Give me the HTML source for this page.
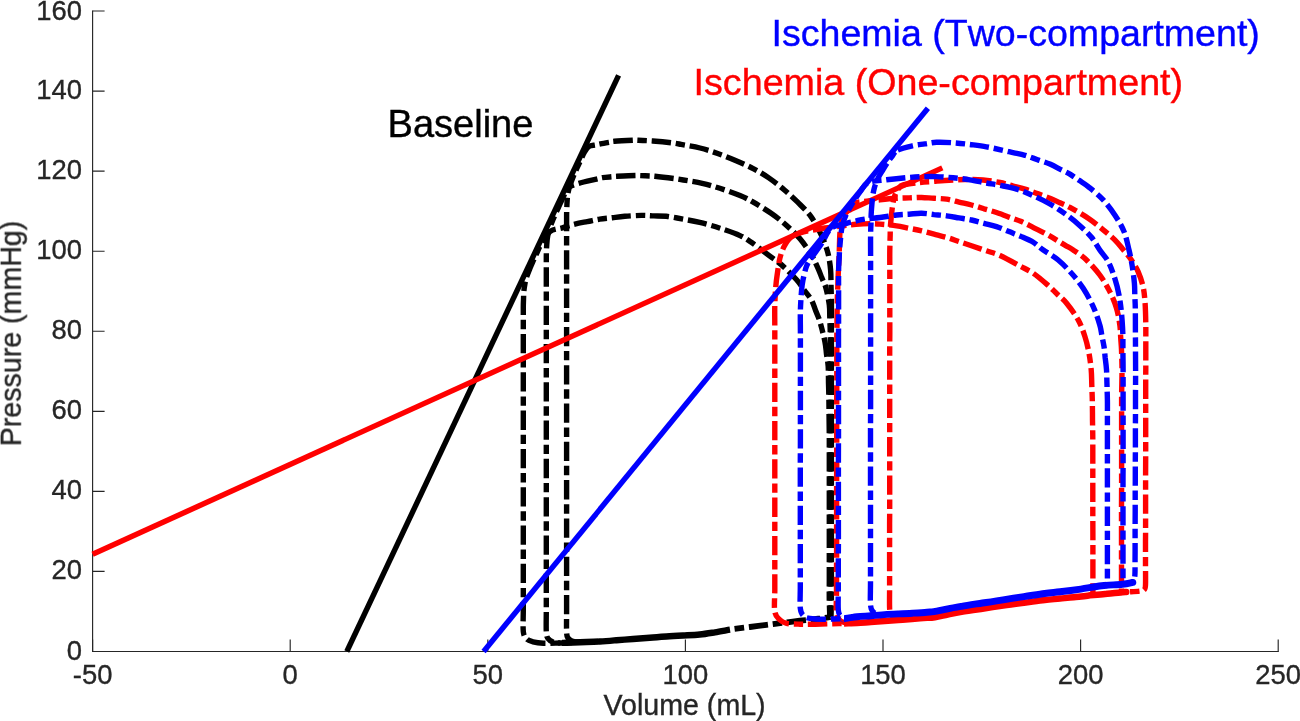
<!DOCTYPE html>
<html lang="en">
<head>
<meta charset="utf-8">
<title>Pressure-volume loops: Baseline vs Ischemia</title>
<style>
html,body{margin:0;padding:0;background:#fff;}
body{width:1300px;height:721px;overflow:hidden;}
svg{display:block;}
</style>
</head>
<body>
<svg width="1300" height="721" viewBox="0 0 1300 721">
<rect width="1300" height="721" fill="#fff"/>
<g stroke="#262626" stroke-width="1.15" fill="none" shape-rendering="auto">
<path d="M92.6 10.4V651.5H1278.8"/>
<path d="M92.6 651.5v-12.0M290.2 651.5v-12.0M487.8 651.5v-12.0M685.4 651.5v-12.0M883.0 651.5v-12.0M1080.6 651.5v-12.0M1278.2 651.5v-12.0M92.6 651.5h12.0M92.6 571.4h12.0M92.6 491.3h12.0M92.6 411.3h12.0M92.6 331.2h12.0M92.6 251.2h12.0M92.6 171.1h12.0M92.6 91.1h12.0M92.6 11.0h12.0"/>
</g>
<g font-family="'Liberation Sans', Arial, Helvetica, sans-serif" fill="#262626" stroke="#262626" stroke-width="0.35" style="opacity:0.999">
<g font-size="27.4" text-anchor="middle">
<text x="92.6" y="684.0">-50</text>
<text x="290.2" y="684.0">0</text>
<text x="487.8" y="684.0">50</text>
<text x="685.4" y="684.0">100</text>
<text x="883.0" y="684.0">150</text>
<text x="1080.6" y="684.0">200</text>
<text x="1278.2" y="684.0">250</text>
</g>
<g font-size="27.4" text-anchor="end">
<text x="81.9" y="659.5">0</text>
<text x="81.9" y="579.4">20</text>
<text x="81.9" y="499.3">40</text>
<text x="81.9" y="419.3">60</text>
<text x="81.9" y="339.2">80</text>
<text x="81.9" y="259.2">100</text>
<text x="81.9" y="179.1">120</text>
<text x="81.9" y="99.1">140</text>
<text x="81.9" y="19.8">160</text>
</g>
<text font-size="28.6" text-anchor="middle" x="684.6" y="714.5">Volume (mL)</text>
<text font-size="28.6" text-anchor="middle" transform="translate(20.8 333.5) rotate(-90)">Pressure (mmHg)</text>
</g>
<g fill="none" stroke="#000" stroke-width="5.4" stroke-linejoin="round">
<path stroke-dasharray="19.3 4.8 9.4 4.8" stroke-dashoffset="7.7" d="M831.0 617.0C831.1 614.2 831.3 606.2 831.4 600.0C831.4 593.8 831.4 586.7 831.4 580.0C831.4 573.3 831.4 566.7 831.4 560.0C831.4 553.3 831.4 546.7 831.4 540.0C831.4 533.3 831.4 526.7 831.4 520.0C831.4 513.3 831.4 506.7 831.4 500.0C831.4 493.3 831.4 486.7 831.4 480.0C831.4 473.3 831.4 466.7 831.4 460.0C831.4 453.3 831.4 446.7 831.4 440.0C831.4 433.3 831.4 426.7 831.4 420.0C831.4 413.3 831.4 406.7 831.4 400.0C831.4 393.3 831.4 386.7 831.4 380.0C831.4 373.3 831.4 366.7 831.4 360.0C831.4 353.3 831.4 346.7 831.4 340.0C831.4 333.3 831.4 326.7 831.4 320.0C831.4 313.3 831.5 305.8 831.4 300.0C831.3 294.2 831.1 290.0 831.0 285.0C830.9 280.0 831.1 275.5 830.6 270.0C830.1 264.5 829.3 258.1 827.7 252.2C826.1 246.3 823.8 240.3 821.0 234.4C818.2 228.5 814.9 222.0 811.0 216.6C807.1 211.2 802.1 206.6 797.7 202.2C793.3 197.8 789.2 194.1 784.4 190.0C779.6 185.9 774.0 181.5 768.8 177.9C763.6 174.3 758.8 171.5 753.2 168.6C747.7 165.7 741.4 163.0 735.5 160.5C729.6 158.0 723.6 155.6 717.7 153.5C711.8 151.4 706.1 149.5 700.0 148.0C693.9 146.5 685.9 145.3 681.1 144.4C676.4 143.5 676.2 143.4 671.5 142.8C666.8 142.2 658.2 141.4 652.7 141.0C647.2 140.6 641.5 140.4 638.2 140.3C635.0 140.2 637.2 140.0 633.2 140.2C629.2 140.4 618.3 141.0 614.4 141.3C610.5 141.6 612.2 141.8 609.9 142.2C607.6 142.6 602.9 143.4 600.5 143.9C598.1 144.4 597.5 144.6 595.5 145.0C593.5 145.4 590.6 145.3 588.8 146.5C587.0 147.7 585.9 149.8 584.5 152.0C583.1 154.2 582.0 157.3 580.7 160.0C579.5 162.7 578.2 165.3 577.0 168.0C575.8 170.7 574.6 173.3 573.5 176.0C572.4 178.7 571.3 181.3 570.4 184.0C569.5 186.7 568.7 189.3 568.2 192.0C567.7 194.7 567.4 197.3 567.2 200.0C567.0 202.7 566.9 205.3 566.8 208.0C566.7 210.7 566.6 212.7 566.6 216.0C566.6 219.3 566.6 224.0 566.6 228.0C566.6 232.0 566.6 234.4 566.6 240.0C566.6 245.6 566.6 254.5 566.6 261.8C566.6 269.0 566.6 276.3 566.6 283.6C566.6 290.8 566.6 298.1 566.6 305.3C566.6 312.6 566.6 319.9 566.6 327.1C566.6 334.4 566.6 341.6 566.6 348.9C566.6 356.1 566.6 363.4 566.6 370.7C566.6 377.9 566.6 385.2 566.6 392.4C566.6 399.7 566.6 407.0 566.6 414.2C566.6 421.5 566.6 428.7 566.6 436.0C566.6 443.3 566.6 450.5 566.6 457.8C566.6 465.0 566.6 472.3 566.6 479.6C566.6 486.8 566.6 494.1 566.6 501.3C566.6 508.6 566.6 515.9 566.6 523.1C566.6 530.4 566.6 537.6 566.6 544.9C566.6 552.1 566.6 559.4 566.6 566.7C566.6 573.9 566.6 581.2 566.6 588.4C566.6 595.7 566.6 603.0 566.6 610.2C566.6 617.5 566.4 627.4 566.6 632.0C566.8 636.6 567.1 636.5 568.0 638.0C568.9 639.5 570.0 640.3 572.0 641.0C574.0 641.7 577.0 642.1 580.0 642.2C583.0 642.4 588.3 642.0 590.0 641.9"/>
<path stroke-dasharray="19.3 4.8 9.4 4.8" stroke-dashoffset="7.7" d="M830.4 617.0C830.4 614.2 830.3 606.2 830.3 600.0C830.3 593.8 830.3 586.7 830.3 580.0C830.3 573.3 830.3 566.7 830.3 560.0C830.3 553.3 830.3 546.7 830.3 540.0C830.3 533.3 830.3 526.7 830.3 520.0C830.3 513.3 830.3 506.7 830.3 500.0C830.3 493.3 830.3 486.7 830.3 480.0C830.3 473.3 830.3 466.7 830.3 460.0C830.3 453.3 830.3 446.7 830.3 440.0C830.3 433.3 830.3 426.7 830.3 420.0C830.3 413.3 830.3 406.2 830.3 400.0C830.3 393.8 830.3 388.3 830.3 382.5C830.3 376.7 830.3 370.8 830.2 365.0C830.2 359.2 830.2 353.3 830.2 347.5C830.2 341.7 830.3 335.0 830.2 330.0C830.1 325.0 829.9 321.7 829.8 317.5C829.6 313.3 829.9 309.9 829.3 305.0C828.7 300.1 827.2 292.7 826.0 288.2C824.8 283.7 823.2 281.4 821.9 277.9C820.5 274.5 819.5 271.6 817.7 267.7C815.9 263.8 814.0 259.2 811.0 254.4C808.0 249.6 804.1 243.6 800.0 238.8C795.9 234.0 791.4 229.8 786.6 225.5C781.8 221.2 776.7 217.2 771.1 213.3C765.5 209.4 758.5 205.2 753.3 202.2C748.1 199.2 745.6 197.8 740.0 195.5C734.4 193.2 726.2 190.3 719.9 188.3C713.6 186.3 708.3 184.7 702.2 183.3C696.1 181.9 688.0 180.8 683.3 180.0C678.5 179.2 678.4 179.1 673.7 178.5C669.0 177.9 658.9 176.7 654.9 176.3C650.9 175.9 652.3 176.1 649.9 176.0C647.5 175.9 642.8 175.7 640.4 175.6C638.0 175.5 639.3 175.4 635.4 175.5C631.5 175.6 621.1 176.1 617.1 176.3C613.1 176.5 614.0 176.6 611.6 176.8C609.2 177.0 605.0 177.3 602.7 177.6C600.4 177.9 601.7 177.9 597.7 178.8C593.7 179.8 583.8 181.8 578.8 183.3C573.8 184.8 570.0 185.9 567.5 188.0C565.0 190.1 565.0 193.3 563.7 196.0C562.5 198.7 561.2 201.3 560.0 204.0C558.8 206.7 557.5 209.3 556.3 212.0C555.1 214.7 553.9 217.3 552.8 220.0C551.7 222.7 550.6 225.3 549.8 228.0C548.9 230.7 548.2 233.3 547.7 236.0C547.2 238.7 547.0 241.3 546.8 244.0C546.6 246.7 546.5 249.3 546.4 252.0C546.3 254.7 546.3 255.0 546.3 260.0C546.3 265.0 546.3 274.6 546.3 281.9C546.3 289.2 546.3 296.5 546.3 303.8C546.3 311.1 546.3 318.4 546.3 325.6C546.3 332.9 546.3 340.2 546.3 347.5C546.3 354.8 546.3 362.1 546.3 369.4C546.3 376.7 546.3 384.0 546.3 391.3C546.3 398.6 546.3 405.9 546.3 413.2C546.3 420.5 546.3 427.8 546.3 435.1C546.3 442.4 546.3 449.6 546.3 456.9C546.3 464.2 546.3 471.5 546.3 478.8C546.3 486.1 546.3 493.4 546.3 500.7C546.3 508.0 546.3 515.3 546.3 522.6C546.3 529.9 546.3 537.2 546.3 544.5C546.3 551.8 546.3 559.1 546.3 566.4C546.3 573.6 546.3 580.9 546.3 588.2C546.3 595.5 546.3 602.8 546.3 610.1C546.3 617.4 546.0 627.3 546.3 632.0C546.6 636.7 546.9 636.8 548.0 638.5C549.1 640.2 551.0 641.2 553.0 642.0C555.0 642.8 556.8 642.9 560.0 643.0C563.2 643.1 570.0 642.6 572.0 642.5"/>
<path stroke-dasharray="19.3 4.8 9.4 4.8" stroke-dashoffset="7.7" d="M829.8 617.0C829.7 614.2 829.4 606.2 829.3 600.0C829.2 593.8 829.3 586.7 829.3 580.0C829.3 573.3 829.3 566.7 829.3 560.0C829.3 553.3 829.3 546.7 829.3 540.0C829.3 533.3 829.3 526.7 829.3 520.0C829.3 513.3 829.3 506.7 829.3 500.0C829.3 493.3 829.3 486.7 829.3 480.0C829.3 473.3 829.3 466.7 829.3 460.0C829.3 453.3 829.3 446.7 829.3 440.0C829.3 433.3 829.2 426.6 829.1 419.9C829.0 413.2 829.0 405.9 828.9 399.8C828.8 393.7 828.7 388.7 828.5 383.2C828.4 377.7 828.5 371.5 828.2 366.6C827.9 361.8 827.1 358.3 826.5 354.1C826.0 349.9 826.0 347.0 824.9 341.6C823.8 336.2 821.4 326.7 819.9 321.6C818.4 316.5 817.1 314.4 815.7 310.8C814.3 307.2 813.4 303.5 811.5 300.0C809.6 296.5 806.5 293.3 804.0 289.9C801.6 286.5 800.3 284.0 796.6 279.8C792.9 275.6 785.8 268.6 781.6 264.9C777.4 261.2 774.9 259.9 771.6 257.4C768.3 254.9 765.1 252.5 761.6 249.9C758.1 247.3 754.1 244.2 750.5 241.8C746.9 239.4 745.1 237.9 740.0 235.6C734.9 233.3 726.7 230.4 720.0 228.2C713.3 226.0 705.9 223.9 699.7 222.4C693.5 220.9 688.5 220.1 683.0 219.1C677.5 218.1 671.2 216.8 666.4 216.3C661.5 215.8 658.1 216.0 653.9 215.9C649.7 215.7 646.2 215.3 641.4 215.4C636.5 215.5 629.6 215.9 624.8 216.3C619.9 216.7 616.5 217.2 612.3 217.7C608.1 218.2 604.0 218.4 599.8 219.1C595.6 219.8 591.5 220.8 587.3 221.6C583.2 222.4 579.1 223.1 574.9 224.1C570.7 225.1 566.6 226.6 562.4 227.8C558.2 229.1 553.4 228.9 549.9 231.6C546.4 234.3 543.2 240.6 541.1 244.0C539.0 247.4 538.5 249.3 537.3 252.0C536.0 254.7 534.8 257.3 533.6 260.0C532.4 262.7 531.2 265.3 530.1 268.0C529.0 270.7 527.9 273.3 527.0 276.0C526.1 278.7 525.4 281.3 524.9 284.0C524.4 286.7 524.0 289.3 523.8 292.0C523.6 294.7 523.6 297.3 523.5 300.0C523.4 302.7 523.3 303.1 523.3 308.0C523.3 312.9 523.3 322.4 523.3 329.6C523.3 336.8 523.3 343.9 523.3 351.1C523.3 358.3 523.3 365.5 523.3 372.7C523.3 379.9 523.3 387.1 523.3 394.3C523.3 401.5 523.3 408.6 523.3 415.8C523.3 423.0 523.3 430.2 523.3 437.4C523.3 444.6 523.3 451.8 523.3 459.0C523.3 466.2 523.3 473.3 523.3 480.5C523.3 487.7 523.3 494.9 523.3 502.1C523.3 509.3 523.3 516.5 523.3 523.7C523.3 530.9 523.3 538.0 523.3 545.2C523.3 552.4 523.3 559.6 523.3 566.8C523.3 574.0 523.3 581.2 523.3 588.4C523.3 595.6 523.3 602.7 523.3 609.9C523.3 617.1 522.8 626.7 523.3 631.5C523.8 636.3 525.0 637.3 526.6 639.0C528.2 640.7 530.2 641.1 533.0 641.8C535.8 642.5 538.8 643.0 543.3 643.2C547.8 643.4 557.2 643.0 560.0 643.0"/>
<path stroke-width="6.4" d="M562.0 642.9C562.8 642.9 563.6 642.8 566.6 642.7C569.6 642.6 574.5 642.4 580.0 642.2C585.5 642.0 593.7 641.8 599.8 641.5C605.9 641.2 610.9 640.7 616.4 640.2C621.9 639.8 627.5 639.4 633.0 639.0C638.5 638.6 644.1 638.2 649.7 637.8C655.3 637.3 660.8 636.9 666.4 636.5C672.0 636.1 677.5 635.8 683.0 635.5C688.6 635.2 694.4 635.0 699.7 634.5C705.0 634.0 710.0 633.1 715.0 632.3C720.0 631.5 727.5 630.1 730.0 629.7"/>
<path stroke-width="5.8" stroke-dasharray="0 4.8 9.4 4.8 19.3 0" stroke-dashoffset="0" d="M730.0 629.7C730.5 629.6 730.0 629.6 733.3 629.1C736.6 628.6 744.4 627.7 750.0 627.0C755.5 626.3 761.1 625.6 766.6 624.9C772.1 624.2 777.7 623.5 783.2 622.8C788.7 622.1 795.1 621.3 799.8 620.7C804.5 620.1 807.6 619.9 811.5 619.5C815.3 619.0 819.9 618.6 823.1 618.2C826.3 617.8 829.4 617.2 830.6 617.0"/>
<path d="M346.8 651.5L618.6 75.3"/>
</g>
<g fill="none" stroke="#f00" stroke-width="5.4" stroke-linejoin="round">
<path stroke-dasharray="19.3 4.8 9.4 4.8" stroke-dashoffset="20.9" d="M1092.9 596.0C1092.9 592.8 1092.9 583.0 1092.9 576.5C1092.9 570.0 1092.9 563.5 1092.9 557.0C1092.9 550.5 1092.9 544.0 1092.9 537.5C1092.9 531.0 1092.9 524.5 1092.8 518.0C1092.8 511.5 1092.8 505.0 1092.8 498.5C1092.8 492.0 1092.8 485.5 1092.8 479.0C1092.8 472.5 1092.8 466.0 1092.8 459.5C1092.8 453.0 1092.8 446.6 1092.8 440.0C1092.8 433.4 1092.6 426.7 1092.5 420.0C1092.5 413.3 1092.4 405.9 1092.3 400.0C1092.2 394.1 1091.9 389.9 1091.8 384.9C1091.6 379.9 1091.7 375.1 1091.2 369.8C1090.7 364.5 1090.0 358.8 1089.0 353.2C1088.0 347.6 1086.7 342.1 1084.9 336.5C1083.1 330.9 1081.2 325.4 1078.2 319.9C1075.2 314.3 1070.1 307.5 1066.6 303.2C1063.1 298.9 1060.4 297.2 1057.3 294.2C1054.2 291.3 1052.0 288.8 1048.0 285.3C1044.0 281.8 1038.1 276.6 1033.3 273.3C1028.5 270.0 1024.5 268.5 1019.0 265.5C1013.5 262.5 1005.5 258.0 1000.0 255.5C994.5 253.0 990.5 252.2 985.8 250.6C981.0 249.0 976.0 247.2 971.5 245.7C967.0 244.2 963.2 242.9 959.0 241.6C954.9 240.2 950.8 238.6 946.6 237.4C942.4 236.2 938.3 235.2 934.1 234.1C929.9 233.0 925.8 231.8 921.6 230.8C917.4 229.8 913.3 229.1 909.1 228.3C904.9 227.5 901.5 226.5 896.6 225.8C891.8 225.1 884.4 224.5 880.0 224.1C875.6 223.7 874.0 223.6 870.0 223.6C866.0 223.6 860.5 223.9 856.0 224.3C851.5 224.7 848.2 225.2 843.0 225.8C837.8 226.4 830.5 227.2 825.0 228.0C819.5 228.8 814.2 229.7 810.0 230.5C805.8 231.3 803.4 231.7 800.0 233.0C796.6 234.3 792.5 235.9 789.9 238.2C787.2 240.5 785.8 243.3 784.1 246.6C782.4 249.9 781.0 253.8 779.9 258.2C778.8 262.6 778.1 268.5 777.4 273.2C776.7 277.9 776.2 281.2 775.8 286.5C775.4 291.8 775.0 298.3 774.8 305.0C774.6 311.7 774.8 319.6 774.8 326.9C774.8 334.2 774.8 341.5 774.8 348.8C774.8 356.1 774.8 363.4 774.8 370.7C774.8 378.0 774.8 385.3 774.8 392.6C774.8 399.9 774.8 407.2 774.8 414.5C774.8 421.8 774.8 429.1 774.8 436.4C774.8 443.7 774.8 451.0 774.8 458.3C774.8 465.6 774.8 472.9 774.8 480.2C774.8 487.5 774.8 494.8 774.8 502.1C774.8 509.4 774.8 516.7 774.8 524.0C774.8 531.3 774.8 538.6 774.8 545.9C774.8 553.2 774.8 560.5 774.8 567.8C774.8 575.1 774.8 582.4 774.8 589.7C774.8 597.0 773.9 606.6 774.8 611.6C775.6 616.6 777.9 617.9 779.9 619.9C781.9 621.9 783.1 622.7 786.5 623.4C789.9 624.1 795.2 624.1 800.0 624.2C804.8 624.3 809.9 624.3 815.4 624.2C820.9 624.1 826.9 623.9 832.7 623.7C838.5 623.5 847.1 623.3 850.0 623.2"/>
<path stroke-dasharray="19.3 4.8 9.4 4.8" stroke-dashoffset="29" d="M1121.5 593.0C1121.5 589.4 1121.5 578.7 1121.5 571.6C1121.5 564.4 1121.5 557.3 1121.5 550.1C1121.5 543.0 1121.5 535.8 1121.5 528.7C1121.5 521.5 1121.5 514.4 1121.5 507.2C1121.5 500.1 1121.6 492.9 1121.6 485.8C1121.6 478.6 1121.6 471.5 1121.6 464.3C1121.6 457.2 1121.6 450.0 1121.6 442.9C1121.6 435.7 1121.6 428.6 1121.6 421.4C1121.6 414.3 1121.6 406.1 1121.6 400.0C1121.6 393.9 1121.7 389.9 1121.8 384.9C1121.9 379.9 1122.0 375.6 1122.0 369.8C1122.0 364.0 1121.7 355.2 1121.5 349.8C1121.3 344.4 1120.9 341.5 1120.7 337.4C1120.4 333.2 1120.5 329.8 1119.8 324.9C1119.1 320.0 1118.2 313.8 1116.5 308.2C1114.8 302.6 1112.6 297.1 1109.8 291.6C1107.0 286.1 1103.7 280.3 1099.8 275.0C1095.9 269.7 1090.9 264.2 1086.5 260.0C1082.1 255.8 1076.9 252.5 1073.2 250.0C1069.5 247.5 1069.0 247.6 1064.5 244.9C1060.0 242.2 1051.5 236.9 1046.4 234.1C1041.3 231.3 1038.1 229.9 1033.9 227.8C1029.7 225.8 1025.6 223.4 1021.4 221.6C1017.2 219.8 1013.1 218.6 1009.0 217.1C1004.8 215.5 1000.7 213.9 996.5 212.5C992.3 211.1 988.2 210.0 984.0 208.8C979.8 207.5 975.7 206.1 971.5 205.0C967.3 203.9 963.2 203.1 959.0 202.1C954.9 201.1 950.8 199.8 946.6 199.2C942.4 198.6 938.3 198.6 934.1 198.3C929.9 198.1 925.8 197.6 921.6 197.5C917.4 197.4 913.3 197.8 909.1 197.9C904.9 198.0 901.5 198.0 896.6 198.3C891.7 198.6 885.5 199.2 879.9 199.8C874.3 200.4 867.0 201.1 863.0 201.6C859.0 202.1 858.2 201.9 856.0 203.0C853.8 204.1 851.8 206.2 850.0 208.0C848.2 209.8 846.4 211.7 845.0 214.0C843.6 216.3 842.3 219.0 841.5 222.0C840.7 225.0 840.4 227.3 840.0 232.0C839.6 236.7 839.5 244.9 839.3 250.0C839.1 255.1 838.9 258.3 838.8 262.5C838.6 266.7 838.4 270.8 838.2 275.0C838.0 279.2 837.9 283.3 837.8 287.5C837.6 291.7 837.4 294.6 837.3 300.0C837.2 305.4 837.1 313.3 837.0 320.0C837.0 326.7 836.8 333.2 836.8 340.0C836.8 346.8 836.8 353.9 836.8 360.9C836.8 367.9 836.8 374.9 836.8 381.8C836.7 388.8 836.7 395.8 836.7 402.8C836.7 409.7 836.7 416.7 836.7 423.7C836.7 430.7 836.7 437.6 836.7 444.6C836.7 451.6 836.7 458.6 836.7 465.5C836.7 472.5 836.6 479.5 836.6 486.5C836.6 493.4 836.6 500.4 836.6 507.4C836.6 514.4 836.6 521.3 836.6 528.3C836.6 535.3 836.6 542.3 836.6 549.2C836.6 556.2 836.6 563.2 836.5 570.2C836.5 577.1 836.5 584.1 836.5 591.1C836.5 598.1 835.9 607.1 836.5 612.0C837.1 616.9 838.4 618.7 840.0 620.5C841.6 622.3 845.0 622.6 846.0 623.0"/>
<path stroke-dasharray="19.3 4.8 9.4 4.8" stroke-dashoffset="24.1" d="M1130.0 591.8C1131.7 591.7 1138.0 591.4 1140.4 591.0C1142.8 590.6 1143.5 590.6 1144.3 589.6C1145.1 588.6 1145.3 589.4 1145.5 585.0C1145.7 580.6 1145.5 570.6 1145.5 563.3C1145.5 556.1 1145.5 548.9 1145.5 541.6C1145.6 534.4 1145.6 527.2 1145.6 520.0C1145.6 512.8 1145.6 505.5 1145.6 498.3C1145.6 491.1 1145.6 483.9 1145.6 476.6C1145.6 469.4 1145.6 462.2 1145.7 454.9C1145.7 447.7 1145.7 440.5 1145.7 433.3C1145.7 426.0 1145.7 418.8 1145.7 411.6C1145.7 404.4 1145.7 397.1 1145.7 389.9C1145.7 382.7 1145.7 375.5 1145.8 368.2C1145.8 361.0 1145.8 353.8 1145.8 346.6C1145.8 339.3 1145.9 332.1 1145.8 324.9C1145.7 317.7 1145.5 309.6 1145.1 303.2C1144.6 296.8 1144.3 291.9 1143.1 286.6C1141.9 281.3 1140.0 276.0 1138.1 271.6C1136.1 267.2 1133.9 263.7 1131.4 260.0C1128.9 256.3 1125.9 252.9 1123.1 249.5C1120.3 246.1 1118.1 243.1 1114.8 239.8C1111.5 236.5 1107.6 233.4 1103.2 229.8C1098.8 226.2 1093.8 221.9 1088.2 218.2C1082.7 214.5 1074.6 210.0 1069.9 207.4C1065.2 204.8 1063.2 204.3 1059.9 202.8C1056.6 201.3 1053.6 199.7 1049.9 198.2C1046.2 196.7 1041.6 195.2 1037.5 193.6C1033.3 192.1 1029.2 190.4 1025.0 189.1C1020.8 187.8 1016.7 186.9 1012.5 185.8C1008.3 184.7 1004.9 183.5 1000.0 182.5C995.1 181.5 989.0 180.5 983.1 180.0C977.2 179.5 971.2 179.4 964.8 179.5C958.4 179.6 950.2 180.2 944.8 180.5C939.4 180.8 936.5 181.2 932.3 181.5C928.1 181.8 924.6 181.9 919.8 182.5C914.9 183.1 906.7 184.0 903.2 184.9C899.7 185.8 900.4 186.3 899.0 188.0C897.6 189.7 896.1 192.0 895.0 195.0C893.9 198.0 893.2 201.0 892.5 206.0C891.8 211.0 890.9 219.8 890.5 225.0C890.1 230.2 890.3 233.3 890.1 237.5C890.0 241.7 889.9 244.4 889.8 250.0C889.7 255.6 889.8 264.0 889.8 271.1C889.8 278.1 889.8 285.1 889.8 292.1C889.8 299.1 889.8 306.2 889.8 313.2C889.8 320.2 889.8 327.2 889.8 334.2C889.7 341.3 889.7 348.3 889.7 355.3C889.7 362.3 889.7 369.3 889.7 376.4C889.7 383.4 889.7 390.4 889.7 397.4C889.7 404.4 889.7 411.5 889.7 418.5C889.7 425.5 889.7 432.5 889.7 439.5C889.7 446.5 889.7 453.6 889.7 460.6C889.7 467.6 889.7 474.6 889.7 481.6C889.7 488.7 889.7 495.7 889.7 502.7C889.7 509.7 889.7 516.7 889.6 523.8C889.6 530.8 889.6 537.8 889.6 544.8C889.6 551.8 889.6 558.9 889.6 565.9C889.6 572.9 889.6 579.9 889.6 586.9C889.6 594.0 889.4 603.5 889.6 608.0C889.8 612.5 890.1 612.2 891.0 614.0C891.9 615.8 893.5 617.5 895.0 618.5C896.5 619.5 899.2 619.8 900.0 620.0"/>
<path stroke-width="6.5" d="M844.0 623.4C846.2 623.3 852.5 623.2 857.0 623.0C861.5 622.8 866.2 622.3 870.8 622.0C875.4 621.7 880.0 621.3 884.6 621.0C889.2 620.7 893.7 620.3 898.3 620.0C902.9 619.7 907.8 619.3 912.0 619.0C916.2 618.7 919.7 618.4 923.5 618.1C927.3 617.8 931.0 617.8 935.0 617.2C939.0 616.6 943.3 615.4 947.7 614.5C952.1 613.6 955.8 612.8 961.6 611.8C967.4 610.8 975.4 609.7 982.4 608.7C989.3 607.7 996.2 606.6 1003.1 605.6C1010.0 604.6 1017.0 603.7 1023.9 602.8C1030.8 601.9 1038.7 600.7 1044.7 600.0C1050.7 599.3 1055.1 599.1 1060.0 598.6C1064.9 598.1 1069.2 597.6 1073.8 597.2C1078.5 596.7 1082.5 596.2 1087.7 595.7C1092.9 595.2 1099.3 594.5 1105.1 594.0C1110.8 593.4 1118.9 592.5 1122.4 592.2C1125.9 591.9 1125.4 592.0 1126.0 592.0C1126.6 592.0 1126.0 592.0 1126.0 592.0"/>
<path d="M92.6 554.2L942.3 167.9"/>
</g>
<g fill="none" stroke="#00f" stroke-width="5.4" stroke-linejoin="round">
<path stroke-dasharray="19.3 4.8 9.4 4.8" stroke-dashoffset="17.5" d="M1107.4 585.0C1107.4 581.6 1107.4 571.3 1107.4 564.4C1107.4 557.6 1107.4 550.7 1107.4 543.9C1107.4 537.0 1107.4 530.2 1107.4 523.3C1107.4 516.5 1107.4 509.6 1107.4 502.8C1107.4 495.9 1107.4 489.1 1107.4 482.2C1107.4 475.4 1107.4 468.5 1107.4 461.7C1107.4 454.8 1107.4 448.0 1107.4 441.1C1107.4 434.3 1107.4 427.4 1107.4 420.6C1107.4 413.7 1107.5 405.9 1107.4 400.0C1107.3 394.1 1107.1 389.9 1107.0 384.9C1106.8 379.9 1106.8 374.3 1106.5 369.8C1106.2 365.3 1105.7 362.0 1105.2 358.1C1104.8 354.3 1104.6 350.2 1104.0 346.5C1103.4 342.8 1102.6 339.3 1101.9 335.7C1101.2 332.1 1101.2 329.8 1099.8 324.9C1098.3 320.0 1096.0 312.7 1093.2 306.6C1090.4 300.5 1086.8 293.9 1083.2 288.3C1079.6 282.8 1075.7 278.0 1071.5 273.3C1067.3 268.6 1062.9 263.9 1058.2 260.0C1053.5 256.1 1047.5 252.9 1043.3 250.0C1039.1 247.1 1037.0 244.5 1033.3 242.3C1029.6 240.1 1025.5 238.4 1021.4 236.6C1017.3 234.8 1013.1 233.3 1009.0 231.6C1004.8 229.9 1000.7 228.0 996.5 226.6C992.3 225.2 988.2 224.4 984.0 223.3C979.8 222.2 975.7 220.9 971.5 220.0C967.3 219.1 963.2 218.6 959.0 217.9C954.9 217.2 950.8 216.4 946.6 215.8C942.4 215.2 938.3 215.0 934.1 214.6C929.9 214.1 925.8 213.4 921.6 213.3C917.4 213.2 913.3 213.9 909.1 214.2C904.9 214.4 901.5 214.4 896.6 215.0C891.8 215.6 885.3 216.8 880.0 217.5C874.7 218.2 868.7 218.5 864.8 219.1C860.9 219.7 859.5 220.1 856.5 220.8C853.5 221.5 850.8 222.1 846.5 223.3C842.2 224.6 835.1 225.0 831.0 228.3C826.9 231.6 825.2 238.2 822.0 243.0C818.8 247.8 814.6 253.2 812.0 257.0C809.4 260.8 808.1 262.2 806.6 266.0C805.1 269.8 803.8 276.0 803.0 280.0C802.2 284.0 802.0 285.0 801.6 290.0C801.2 295.0 800.6 303.1 800.4 310.0C800.2 316.9 800.4 324.2 800.4 331.3C800.4 338.4 800.4 345.5 800.4 352.6C800.4 359.7 800.4 366.8 800.4 373.9C800.4 381.0 800.4 388.1 800.4 395.2C800.4 402.3 800.4 409.4 800.4 416.5C800.4 423.6 800.4 430.7 800.4 437.8C800.4 444.9 800.4 452.0 800.3 459.1C800.3 466.3 800.3 473.4 800.3 480.5C800.3 487.6 800.3 494.7 800.3 501.8C800.3 508.9 800.3 516.0 800.3 523.1C800.3 530.2 800.3 537.3 800.3 544.4C800.3 551.5 800.3 558.6 800.3 565.7C800.3 572.8 800.3 579.9 800.3 587.0C800.3 594.1 799.8 603.5 800.3 608.3C800.8 613.1 801.6 613.9 803.2 615.6C804.8 617.3 806.5 617.8 809.8 618.4C813.1 619.0 817.3 619.2 823.1 619.2C828.9 619.2 840.0 618.8 844.5 618.6C849.0 618.4 849.1 617.9 850.0 617.8"/>
<path stroke-dasharray="19.3 4.8 9.4 4.8" stroke-dashoffset="18.2" d="M1123.0 584.0C1123.0 580.4 1123.0 569.7 1123.0 562.6C1123.0 555.4 1123.0 548.3 1123.0 541.2C1123.0 534.0 1123.0 526.9 1123.0 519.7C1123.0 512.6 1123.0 505.5 1123.0 498.3C1123.0 491.2 1123.0 484.0 1123.0 476.9C1123.1 469.8 1123.1 462.6 1123.1 455.5C1123.1 448.3 1123.1 441.2 1123.1 434.1C1123.1 426.9 1123.1 419.8 1123.1 412.6C1123.1 405.5 1123.1 398.4 1123.1 391.2C1123.1 384.1 1123.1 376.4 1123.1 369.8C1123.1 363.2 1123.0 357.6 1122.9 351.5C1122.9 345.4 1123.0 339.6 1122.8 333.2C1122.6 326.8 1122.1 319.6 1121.5 313.2C1120.9 306.8 1120.1 300.7 1119.0 294.9C1117.9 289.1 1116.6 283.9 1114.8 278.3C1113.0 272.8 1110.7 266.3 1108.2 261.6C1105.7 256.9 1102.6 254.1 1099.8 250.0C1097.0 245.9 1094.8 241.4 1091.5 237.3C1088.2 233.2 1084.1 229.4 1079.9 225.7C1075.8 222.0 1071.6 218.5 1066.6 214.9C1061.6 211.3 1055.5 207.2 1049.9 204.0C1044.4 200.8 1038.8 198.2 1033.3 195.7C1027.8 193.2 1022.1 190.8 1016.6 189.1C1011.1 187.4 1005.0 186.4 1000.0 185.4C995.0 184.4 991.4 183.9 986.4 183.0C981.4 182.1 975.3 180.7 969.8 179.8C964.2 178.9 958.6 178.3 953.1 177.8C947.6 177.3 942.0 176.8 936.5 176.6C931.0 176.4 925.3 176.6 919.8 176.8C914.2 177.0 908.7 177.5 903.2 178.0C897.7 178.5 892.5 179.0 886.6 179.8C880.7 180.6 872.4 180.6 868.0 182.6C863.6 184.6 862.7 188.4 860.0 192.0C857.3 195.6 854.3 200.2 852.0 204.0C849.7 207.8 847.7 211.2 846.0 215.0C844.3 218.8 843.0 221.7 842.0 227.0C841.0 232.3 840.3 241.4 839.8 246.6C839.3 251.8 839.4 254.4 839.2 258.3C839.0 262.2 838.7 264.5 838.6 270.0C838.5 275.5 838.6 284.2 838.6 291.2C838.6 298.3 838.6 305.4 838.6 312.5C838.6 319.6 838.6 326.7 838.5 333.8C838.5 340.8 838.5 347.9 838.5 355.0C838.5 362.1 838.5 369.2 838.5 376.2C838.5 383.3 838.5 390.4 838.5 397.5C838.5 404.6 838.5 411.7 838.5 418.8C838.5 425.8 838.5 432.9 838.5 440.0C838.4 447.1 838.4 454.2 838.4 461.2C838.4 468.3 838.4 475.4 838.4 482.5C838.4 489.6 838.4 496.7 838.4 503.8C838.4 510.8 838.4 517.9 838.4 525.0C838.4 532.1 838.4 539.2 838.4 546.2C838.3 553.3 838.3 560.4 838.3 567.5C838.3 574.6 838.3 581.7 838.3 588.8C838.3 595.8 837.9 605.4 838.3 610.0C838.7 614.6 839.7 615.1 841.0 616.5C842.3 617.9 845.2 618.2 846.0 618.5"/>
<path stroke-dasharray="19.3 4.8 9.4 4.8" stroke-dashoffset="17.5" d="M1132.1 582.5C1132.4 581.9 1133.7 580.8 1134.2 579.0C1134.7 577.2 1134.9 576.5 1135.0 572.0C1135.1 567.5 1135.0 558.5 1135.1 551.8C1135.1 545.0 1135.1 538.3 1135.1 531.6C1135.1 524.8 1135.2 518.1 1135.2 511.3C1135.2 504.6 1135.2 497.9 1135.2 491.1C1135.3 484.4 1135.3 477.6 1135.3 470.9C1135.3 464.2 1135.3 457.4 1135.4 450.7C1135.4 443.9 1135.4 437.2 1135.4 430.5C1135.4 423.7 1135.5 417.0 1135.5 410.2C1135.5 403.5 1135.5 396.8 1135.5 390.0C1135.6 383.3 1135.6 376.6 1135.6 369.8C1135.6 363.0 1135.5 356.1 1135.5 349.3C1135.5 342.4 1135.4 335.6 1135.4 328.7C1135.4 321.9 1135.4 313.7 1135.3 308.2C1135.2 302.7 1135.0 299.9 1134.8 295.8C1134.7 291.6 1134.8 288.2 1134.4 283.3C1134.0 278.4 1133.2 272.2 1132.3 266.6C1131.4 261.1 1130.4 255.8 1129.0 250.0C1127.6 244.2 1126.4 237.3 1124.0 231.5C1121.6 225.7 1118.3 220.2 1114.8 214.9C1111.3 209.6 1107.6 204.6 1103.2 199.9C1098.8 195.2 1092.2 189.9 1088.2 186.6C1084.2 183.3 1082.1 182.4 1079.1 180.3C1076.0 178.3 1073.1 176.0 1069.9 174.1C1066.7 172.2 1063.2 170.8 1059.9 169.1C1056.6 167.4 1053.6 165.7 1049.9 164.1C1046.2 162.5 1041.6 161.2 1037.5 159.7C1033.3 158.2 1028.9 156.5 1025.0 155.3C1021.1 154.2 1017.7 153.6 1014.0 152.8C1010.3 152.0 1007.6 151.3 1003.0 150.3C998.4 149.3 991.9 147.8 986.4 146.8C980.9 145.8 975.3 145.2 969.8 144.5C964.2 143.8 958.6 143.2 953.1 142.8C947.6 142.4 941.2 142.1 936.5 142.3C931.8 142.5 928.7 143.4 924.9 143.9C921.0 144.5 917.7 144.6 913.2 145.6C908.7 146.6 901.2 148.2 897.7 150.0"/>
<path stroke-dasharray="19.3 4.8 9.4 4.8" stroke-dashoffset="20.95" d="M897.7 150.0C894.2 151.8 893.7 154.5 892.0 156.5C890.3 158.5 889.3 159.8 887.7 162.2C886.1 164.6 883.9 168.2 882.2 171.0C880.5 173.8 879.0 176.0 877.7 178.8C876.4 181.6 875.3 184.5 874.4 187.7C873.5 190.9 873.0 193.9 872.5 198.0C872.0 202.1 871.6 207.8 871.3 212.0C871.0 216.2 871.1 219.7 871.0 223.5C870.8 227.3 870.7 229.5 870.6 235.0C870.5 240.5 870.6 249.5 870.6 256.8C870.6 264.0 870.6 271.3 870.6 278.5C870.6 285.8 870.6 293.0 870.6 300.3C870.6 307.5 870.6 314.8 870.6 322.1C870.6 329.3 870.6 336.6 870.6 343.8C870.6 351.1 870.6 358.3 870.6 365.6C870.6 372.8 870.6 380.1 870.6 387.4C870.6 394.6 870.6 401.9 870.6 409.1C870.6 416.4 870.5 423.6 870.5 430.9C870.5 438.1 870.5 445.4 870.5 452.6C870.5 459.9 870.5 467.2 870.5 474.4C870.5 481.7 870.5 488.9 870.5 496.2C870.5 503.4 870.5 510.7 870.5 517.9C870.5 525.2 870.5 532.5 870.5 539.7C870.5 547.0 870.5 554.2 870.5 561.5C870.5 568.7 870.5 576.0 870.5 583.2C870.5 590.5 870.1 600.3 870.5 605.0C870.9 609.7 871.8 610.0 873.0 611.6C874.2 613.2 877.2 614.1 878.0 614.6"/>
<path stroke-width="6.9" d="M844.0 618.6C844.1 618.6 842.3 618.9 844.5 618.6C846.7 618.3 852.6 617.3 857.0 616.8C861.4 616.3 866.2 616.1 870.8 615.7C875.4 615.3 880.0 614.9 884.6 614.6C889.2 614.3 893.9 614.1 898.5 613.9C903.1 613.7 907.6 613.5 912.4 613.2C917.1 612.9 923.4 612.5 927.0 612.2C930.6 611.9 930.4 612.2 933.9 611.6C937.4 611.0 943.1 609.7 947.7 608.8C952.3 607.9 955.8 607.3 961.6 606.3C967.4 605.3 975.4 604.1 982.4 603.0C989.3 602.0 996.2 600.9 1003.1 599.8C1010.0 598.7 1017.0 597.7 1023.9 596.6C1030.8 595.6 1038.7 594.3 1044.7 593.5C1050.7 592.7 1054.0 592.5 1060.0 591.8C1066.0 591.1 1073.9 590.1 1080.8 589.1C1087.7 588.1 1094.7 586.6 1101.6 585.8C1108.5 585.0 1117.3 584.8 1122.4 584.2C1127.5 583.7 1130.5 582.8 1132.1 582.5C1133.7 582.2 1132.1 582.5 1132.1 582.5"/>
<path d="M483.6 651.5L927.9 108.3"/>
</g>
<g font-family="'Liberation Sans', Arial, Helvetica, sans-serif" stroke-width="0.4" style="opacity:0.999;font-kerning:none">
<text x="387.6" y="137.0" font-size="38.0" fill="#000" stroke="#000">Baseline</text>
<text x="771.6" y="45.7" font-size="37.55" fill="#00f" stroke="#00f">Ischemia (Two-compartment)</text>
<text x="693.6" y="94.8" font-size="37.65" fill="#f00" stroke="#f00">Ischemia (One-compartment)</text>
</g>
</svg>
</body>
</html>
